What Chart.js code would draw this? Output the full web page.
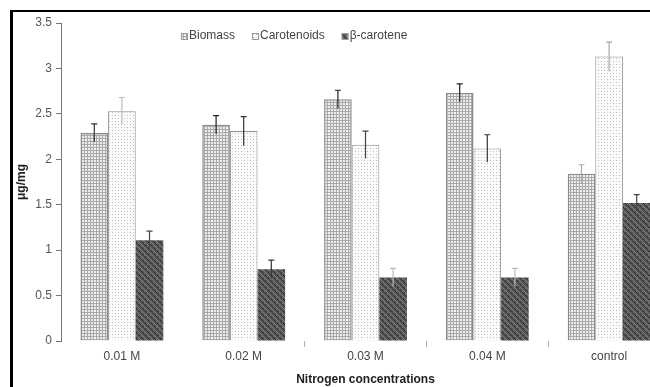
<!DOCTYPE html>
<html>
<head>
<meta charset="utf-8">
<script src="https://cdn.jsdelivr.net/npm/chart.js@4.4.1/dist/chart.umd.min.js"></script>
<style>
  html, body { margin: 0; padding: 0; background: #fff; overflow: hidden; }
  #wrap { position: relative; width: 650px; height: 387px; overflow: hidden; }
  #box { position: absolute; left: 0; top: 0; width: 680px; height: 387px; }
  #frame { position: absolute; left: 10px; top: 10px; width: 700px; height: 400px;
           border-top: 2px solid #000; border-left: 3px solid #000; pointer-events: none; }
</style>
</head>
<body>
<div id="wrap">
  <div id="box"><canvas id="chart" width="680" height="387"></canvas></div>
  <div id="frame"></div>
</div>
<script>
const categories = ['0.01 M', '0.02 M', '0.03 M', '0.04 M', 'control'];
const seriesNames = ['Biomass', 'Carotenoids', '\u03b2-carotene'];

const biomass = [2.29, 2.38, 2.66, 2.73, 1.84];
const carotenoids = [2.53, 2.31, 2.16, 2.12, 3.13];
const betaCarotene = [1.11, 0.79, 0.70, 0.70, 1.52];

const biomassErr = [0.10, 0.10, 0.10, 0.10, 0.10];
const carotenoidsErr = [0.15, 0.16, 0.15, 0.15, 0.16];
const betaCaroteneErr = [0.10, 0.10, 0.10, 0.10, 0.09];

// little tiles to imitate the print patterns
function makePattern(size, draw) {
  const c = document.createElement('canvas');
  c.width = size; c.height = size;
  const g = c.getContext('2d');
  draw(g);
  return g.createPattern(c, 'repeat');
}
const ctx = document.getElementById('chart').getContext('2d');

const gridFill = makePattern(9, g => {
  g.fillStyle = '#ececec'; g.fillRect(0, 0, 9, 9);
  g.fillStyle = '#a9a9a9';
  for (let k = 0; k < 9; k += 3) { g.fillRect(0, k, 9, 1); g.fillRect(k, 0, 1, 9); }
  g.fillStyle = '#f7f7f7';
  g.fillRect(4, 4, 2, 2);
});
const dotFill = makePattern(6, g => {
  g.fillStyle = '#fbfbfb'; g.fillRect(0, 0, 6, 6);
  g.fillStyle = '#b4b4b4';
  g.fillRect(1, 1, 1, 1); g.fillRect(4, 4, 1, 1);
  g.fillStyle = '#d4d4d4';
  g.fillRect(4, 1, 1, 1); g.fillRect(1, 4, 1, 1);
});
const darkFill = makePattern(6, g => {
  g.fillStyle = '#545454'; g.fillRect(0, 0, 6, 6);
  g.fillStyle = '#808080';
  for (let i = 0; i < 6; i++) g.fillRect(i, (i + 1) % 6, 1, 1);
  g.fillRect(0, 3, 1, 1); g.fillRect(3, 0, 1, 1);
  g.fillStyle = '#333';
  for (let i = 0; i < 6; i++) g.fillRect(i, (i + 4) % 6, 1, 1);
});

const errorBars = {
  id: 'errorBars',
  afterDatasetsDraw(chart) {
    const y = chart.scales.y;
    const c = chart.ctx;
    chart.data.datasets.forEach((ds, i) => {
      const meta = chart.getDatasetMeta(i);
      meta.data.forEach((bar, j) => {
        const v = ds.data[j], e = ds.errors[j];
        const top = y.getPixelForValue(v + e);
        const bot = y.getPixelForValue(v - e);
        c.save();
        c.strokeStyle = ds.errColors[j];
        c.lineWidth = 1.2;
        c.beginPath();
        c.moveTo(bar.x, top); c.lineTo(bar.x, bot);
        c.moveTo(bar.x - 3, top); c.lineTo(bar.x + 3, top);
        c.stroke();
        c.restore();
      });
    });
  }
};

const topLegend = {
  id: 'topLegend',
  afterDraw(chart) {
    const c = chart.ctx;
    c.save();
    c.font = '12px "Liberation Sans", Arial, sans-serif';
    c.textBaseline = 'middle';
    let x = 181;
    const y = 36;
    chart.data.datasets.forEach(ds => {
      c.fillStyle = ds.backgroundColor;
      c.fillRect(x, y - 3, 6, 6);
      c.strokeStyle = '#999';
      c.lineWidth = 1;
      c.strokeRect(x + 0.5, y - 2.5, 6, 6);
      c.fillStyle = '#444';
      c.fillText(ds.label, x + 8, y);
      x += 8 + c.measureText(ds.label).width + 17;
    });
    c.restore();
  }
};

new Chart(ctx, {
  type: 'bar',
  data: {
    labels: categories,
    datasets: [
      { label: seriesNames[0], data: biomass, errors: biomassErr,
        errColors: ['#333', '#222', '#222', '#222', '#aaa'],
        backgroundColor: gridFill, borderColor: '#8a8a8a', borderWidth: 1.5 },
      { label: seriesNames[1], data: carotenoids, errors: carotenoidsErr,
        errColors: ['#bbb', '#333', '#444', '#333', '#aaa'],
        backgroundColor: dotFill, borderColor: '#8f8f8f', borderWidth: 1 },
      { label: seriesNames[2], data: betaCarotene, errors: betaCaroteneErr,
        errColors: ['#444', '#333', '#bbb', '#bbb', '#444'],
        backgroundColor: darkFill, borderColor: '#5a5a5a', borderWidth: 0 }
    ]
  },
  options: {
    responsive: false,
    animation: false,
    layout: { padding: { top: 23, right: 10, left: 0, bottom: 0 } },
    datasets: { bar: { categoryPercentage: 0.68, barPercentage: 1 } },
    plugins: {
      legend: { display: false },
      tooltip: { enabled: false }
    },
    scales: {
      x: {
        afterFit: s => { s.height = 46; },
        border: { display: false },
        grid: {
          drawOnChartArea: false, tickLength: 6, offset: true,
          color: c => (c.index >= 2 ? '#aaa' : 'rgba(0,0,0,0)')
        },
        ticks: { color: '#444', padding: 2, font: { size: 12, family: '"Liberation Sans", Arial' } },
        title: {
          display: true, text: 'Nitrogen concentrations', color: '#222',
          padding: { top: 0, bottom: 0 },
          font: { size: 12, weight: 'bold', family: '"Liberation Sans", Arial' }
        }
      },
      y: {
        min: 0, max: 3.5,
        afterFit: s => { s.width = 61; },
        border: { display: true, color: '#777', width: 1 },
        grid: { drawOnChartArea: false, tickLength: 5, color: '#777' },
        ticks: {
          stepSize: 0.5, color: '#555', padding: 4,
          font: { size: 12, family: '"Liberation Sans", Arial' },
          callback: v => String(+v.toFixed(1))
        },
        title: {
          display: true, text: '\u03bcg/mg', color: '#222',
          padding: { top: 14, bottom: 0 },
          font: { size: 12, weight: 'bold', family: '"Liberation Sans", Arial' }
        }
      }
    }
  },
  plugins: [errorBars, topLegend]
});
</script>
</body>
</html>
